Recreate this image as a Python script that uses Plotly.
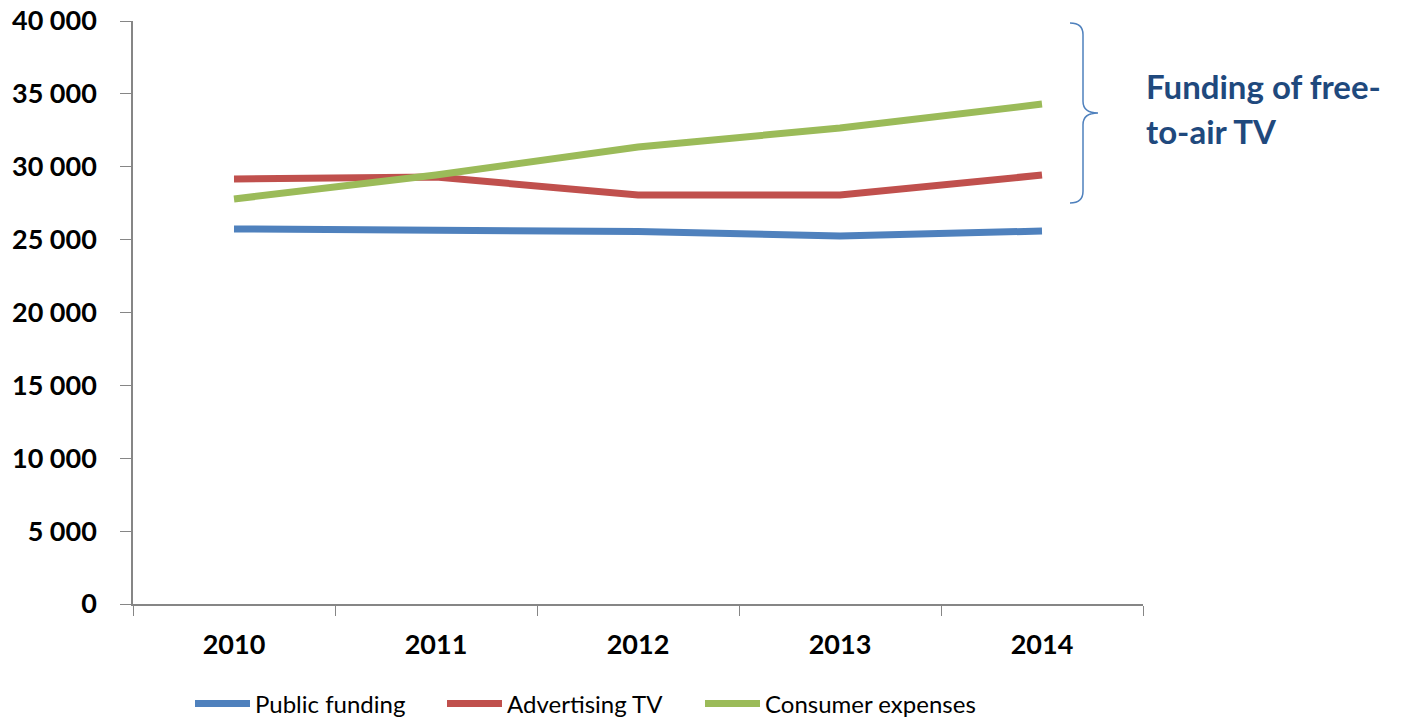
import plotly.graph_objects as go

years = ["2010", "2011", "2012", "2013", "2014"]
public_funding = [25730, 25650, 25560, 25250, 25590]
advertising_tv = [29160, 29300, 28060, 28060, 29430]
consumer_expenses = [27790, 29430, 31350, 32660, 34300]
y_ticks = [0, 5000, 10000, 15000, 20000, 25000, 30000, 35000, 40000]
y_tick_labels = ["0", "5 000", "10 000", "15 000", "20 000", "25 000", "30 000", "35 000", "40 000"]

series = [
    ("Public funding", public_funding, "#4F81BD", "legend"),
    ("Advertising TV", advertising_tv, "#C0504D", "legend2"),
    ("Consumer expenses", consumer_expenses, "#9BBB59", "legend3"),
]

fig = go.Figure()
for name, vals, col, lg in series:
    fig.add_trace(go.Scatter(x=years, y=vals, name=name, mode="lines",
                             line=dict(color=col, width=7), legend=lg))

W, H = 1410, 718
L, R, T, B = 133, 1143, 21, 604
def px(x):
    return (x - L) / (R - L)
def py(y):
    return (B - y) / (B - T)

x0, x1, x2 = px(1070), px(1083), px(1098)
yt, ym, yb = py(23), py(113), py(203)
dy = 0.02
path = (f"M {x0} {yt} Q {x1} {yt} {x1} {yt-dy} L {x1} {ym+dy} "
        f"Q {x1} {ym} {x2} {ym} Q {x1} {ym} {x1} {ym-dy} "
        f"L {x1} {yb+dy} Q {x1} {yb} {x0} {yb}")
fig.add_shape(type="path", path=path, xref="paper", yref="paper",
              line=dict(color="#4F81BD", width=1.5))

title_font = dict(family="Lato", size=33, color="#1F497D")
fig.add_annotation(text="<b>Funding of free-</b>", xref="paper", yref="paper",
                   x=px(1144), y=py(86), xanchor="left", yanchor="middle",
                   showarrow=False, font=title_font)
fig.add_annotation(text="<b>to-air TV</b>", xref="paper", yref="paper",
                   x=px(1144), y=py(131), xanchor="left", yanchor="middle",
                   showarrow=False, font=title_font)

def leg(xpix):
    return dict(orientation="h", x=px(xpix), y=py(704), xanchor="left", yanchor="middle",
                font=dict(family="Lato", size=24, color="black"),
                itemwidth=55, bgcolor="rgba(0,0,0,0)")

fig.update_layout(
    width=W, height=H,
    margin=dict(l=L, r=W - R, t=T, b=H - B, pad=0, autoexpand=False),
    plot_bgcolor="white", paper_bgcolor="white",
    font=dict(family="Lato", color="black"),
    showlegend=True,
    legend=leg(190),
    legend2=leg(442),
    legend3=leg(700),
)
fig.update_xaxes(type="category", range=[-0.5, 4.5], showgrid=False,
                 showline=True, linecolor="#868686", linewidth=1.5,
                 ticks="outside", tickson="boundaries", ticklen=10, tickcolor="#868686",
                 tickfont=dict(family="Lato", size=27, color="black", weight="bold"),
                 ticklabelstandoff=16)
fig.update_yaxes(range=[0, 40000], tickvals=y_ticks, ticktext=y_tick_labels,
                 showgrid=False, zeroline=False,
                 showline=True, linecolor="#868686", linewidth=1.5,
                 ticks="outside", ticklen=11, tickcolor="#868686",
                 tickfont=dict(family="Lato", size=27, color="black", weight="bold"),
                 ticklabelstandoff=18)

fig.write_html("out.html")
